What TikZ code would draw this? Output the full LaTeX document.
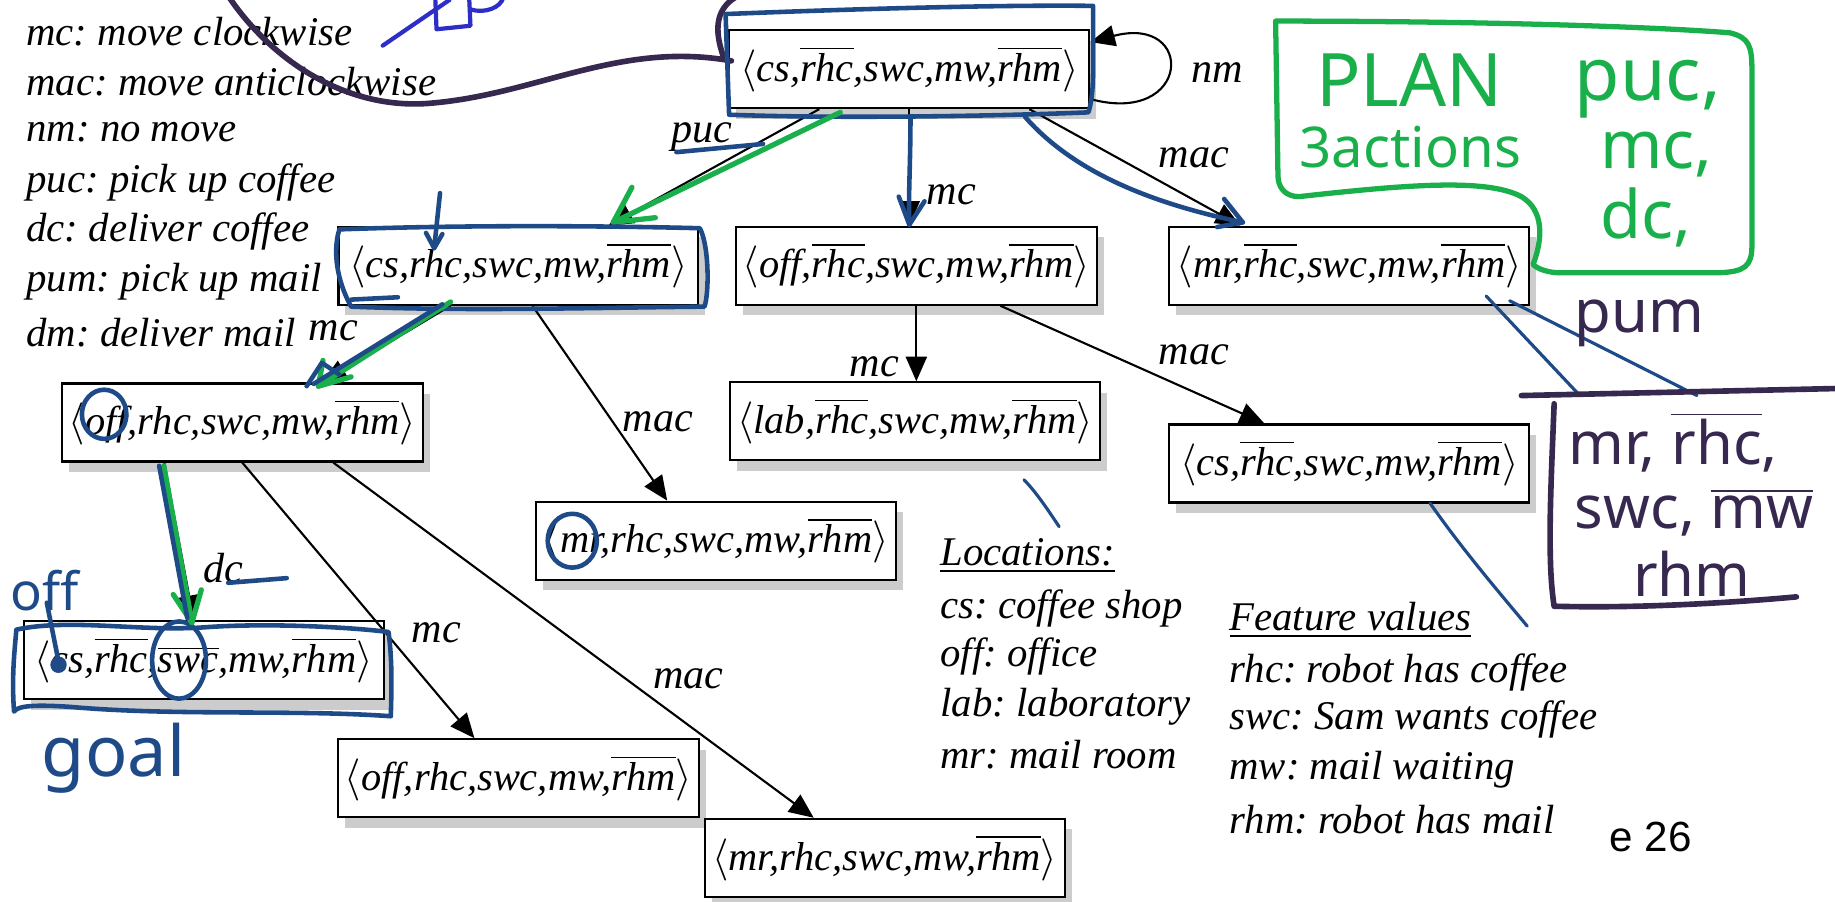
\documentclass[tikz,border=0pt]{standalone}
\usepackage{fontspec}
\setmainfont{Liberation Serif}
\newfontfamily\handfont{Noto Sans}
\newfontfamily\slidefont{Liberation Sans}
\usetikzlibrary{arrows.meta,shadows}
\frenchspacing

\definecolor{inkblue}{RGB}{30,75,135}
\definecolor{cupblue}{RGB}{45,45,200}
\definecolor{inkpurple}{RGB}{55,40,80}
\definecolor{inkgreen}{RGB}{25,175,75}

\newcommand{\negf}[1]{$\overline{\mbox{#1}}$}
\newcommand{\st}[1]{$\langle$#1$\rangle$}

\tikzset{
  stbox/.style={draw, semithick, fill=white, inner sep=2pt,
    minimum width=3.6cm, minimum height=0.78cm,
    font=\fontsize{11.5}{14}\selectfont\itshape,
    drop shadow={shadow xshift=2pt, shadow yshift=-3pt, opacity=0.4}},
  act/.style={font=\fontsize{12}{14}\selectfont\itshape},
  legend/.style={anchor=west, inner sep=0pt, font=\fontsize{11.6}{14}\selectfont\itshape},
  trans/.style={semithick, -{Triangle[length=7pt,width=6pt]}},
  inkb/.style={draw=inkblue, line width=1.3pt, line cap=round, line join=round},
  inkp/.style={draw=inkpurple, line width=1.6pt, line cap=round, line join=round},
  inkg/.style={draw=inkgreen, line width=1.5pt, line cap=round, line join=round},
  hand/.style={inner sep=0pt, font=\handfont\fontsize{21}{25}\selectfont},
}

\begin{document}
\begin{tikzpicture}[x=0.011703cm, y=-0.011703cm]
  \useasboundingbox (0,0) rectangle (1568,770);

  % legend of actions
  \node[legend] (lmc)  at (22,27)  {mc: move clockwise};
  \node[legend] (lmac) at (22,70)  {mac: move anticlockwise};
  \node[legend] (lnm)  at (22,113) {nm: no move};
  \node[legend] (lpuc) at (22,156) {puc: pick up coffee};
  \node[legend] (ldc)  at (22,198) {dc: deliver coffee};
  \node[legend] (lpum) at (22,241) {pum: pick up mail};
  \node[legend] (ldm)  at (22,284) {dm: deliver mail};

  % states
  \node[stbox] (s0)  at (777,59)  {\st{cs,\negf{rhc},swc,mw,\negf{rhm}}};
  \node[stbox] (s1)  at (443,227) {\st{cs,rhc,swc,mw,\negf{rhm}}};
  \node[stbox] (s2)  at (783,227) {\st{off,\negf{rhc},swc,mw,\negf{rhm}}};
  \node[stbox] (s3)  at (1153,227){\st{mr,\negf{rhc},swc,mw,\negf{rhm}}};
  \node[stbox] (s4)  at (207,361) {\st{off,rhc,swc,mw,\negf{rhm}}};
  \node[stbox] (s6)  at (782,360) {\st{lab,\negf{rhc},swc,mw,\negf{rhm}}};
  \node[stbox] (s7)  at (1153,396){\st{cs,\negf{rhc},swc,mw,\negf{rhm}}};
  \node[stbox] (s5)  at (612,462) {\st{mr,rhc,swc,mw,\negf{rhm}}};
  \node[stbox] (s8)  at (174,564) {\st{cs,\negf{rhc},\negf{swc},mw,\negf{rhm}}};
  \node[stbox] (s9)  at (443,665) {\st{off,rhc,swc,mw,\negf{rhm}}};
  \node[stbox] (s10) at (756,733) {\st{mr,rhc,swc,mw,\negf{rhm}}};

  % transitions
  \draw[trans] ([xshift=-0.9cm]s0.south) -- ([xshift=0.9cm]s1.north);
  \draw[trans] (s0.south) -- (s0.south |- s2.north);
  \draw[trans] ([xshift=1.2cm]s0.south) -- ([xshift=-1.09cm]s3.north);
  \draw[trans] ([yshift=-0.3cm]s0.east) .. controls (1018,108) and (1022,12) .. ([yshift=0.27cm]s0.east);
  \draw[trans] ([xshift=-0.68cm]s1.south) -- ([xshift=0.8cm]s4.north);
  \draw[trans] ([xshift=0.14cm]s1.south) -- ([xshift=-0.49cm]s5.north);
  \draw[trans] (s2.south) -- (s2.south |- s6.north);
  \draw[trans] ([xshift=0.84cm]s2.south) -- ([xshift=-0.85cm]s7.north);
  \draw[trans] ([xshift=-0.78cm]s4.south) -- ([xshift=-0.1cm]s8.north);
  \draw[trans] (s4.south) -- ([xshift=-0.44cm]s9.north);
  \draw[trans] ([xshift=0.91cm]s4.south) -- ([xshift=-0.71cm]s10.north);

  % action labels
  \node[act] (anm)   at (1040,62)  {nm};
  \node[act] (apuc)  at (600,117)  {puc};
  \node[act] (amac0) at (1020,135) {mac};
  \node[act] (amc0)  at (813,166)  {mc};
  \node[act] (amc1)  at (285,283)  {mc};
  \node[act] (amac1) at (562,360)  {mac};
  \node[act] (amc2)  at (747,313)  {mc};
  \node[act] (amac2) at (1020,303) {mac};
  \node[act] (adc)   at (191,485)  {dc};
  \node[act] (amc4)  at (373,541)  {mc};
  \node[act] (amac4) at (588,580)  {mac};

  % locations and feature values
  \node[legend] (loc)  at (803,475) {\underline{Locations:}};
  \node[legend] (lcs)  at (803,520) {cs: coffee shop};
  \node[legend] (loff) at (803,561) {off: office};
  \node[legend] (llab) at (803,604) {lab: laboratory};
  \node[legend] (lmr)  at (803,645) {mr: mail room};
  \node[legend] (fv)   at (1050,530) {\underline{Feature values}};
  \node[legend] (frhc) at (1050,575) {rhc: robot has coffee};
  \node[legend] (fswc) at (1050,615) {swc: Sam wants coffee};
  \node[legend] (fmw)  at (1050,658) {mw: mail waiting};
  \node[legend] (frhm) at (1050,700) {rhm: robot has mail};
  \node[anchor=west, inner sep=0pt, font=\slidefont\fontsize{12}{14}\selectfont] (pg) at (1375,715) {e 26};

  % handwritten notes: top scribbles
  \draw[inkp] (196,-2) .. controls (235,55) and (300,95) .. (370,88)
    .. controls (460,80) and (530,35) .. (625,52);
  \draw[inkp] (618,48) .. controls (610,25) and (612,8) .. (628,-2);
  \draw[draw=cupblue, line width=1.2pt, line cap=round] (327,39) -- (384,0);
  \draw[draw=cupblue, line width=1.2pt, line cap=round, line join=round]
    (372,0) -- (373,25) -- (402,22) -- (401,0);
  \draw[draw=cupblue, line width=1.2pt, line cap=round] (402,8) .. controls (415,12) and (428,6) .. (430,-2);
  \draw[inkb] (620,12) .. controls (720,8) and (850,4) .. (934,5) -- (934,60)
    .. controls (934,80) and (932,90) .. (930,96)
    .. controls (830,100) and (700,101) .. (623,98) -- (620,12);

  % traced arrows from the root
  \draw[inkb] (578,130) -- (652,123);
  \draw[inkg] (718,96) -- (524,190);
  \draw[inkg] (540,160) -- (524,190) -- (560,186);
  \draw[inkb] (778,100) .. controls (778,140) and (776,170) .. (777,192);
  \draw[inkb] (768,168) -- (777,192) -- (790,172);
  \draw[inkb] (876,100) .. controls (920,150) and (990,175) .. (1062,190);
  \draw[inkb] (1046,170) -- (1062,190) -- (1040,194);

  % outline of the second state
  \draw[inkb] (290,196) .. controls (400,192) and (520,193) .. (598,195)
    .. controls (606,210) and (606,250) .. (602,262)
    .. controls (500,263) and (400,266) .. (300,262)
    .. controls (288,240) and (284,215) .. (290,196);
  \draw[inkb] (376,165) -- (371,212);
  \draw[inkb] (364,199) -- (371,212) -- (378,200);
  \draw[inkb] (300,256) -- (340,254);
  \draw[inkg] (385,258) -- (272,330);
  \draw[inkg] (276,308) -- (272,330) -- (300,322);
  \draw[inkb] (378,260) -- (268,328);
  \draw[inkb] (262,330) -- (275,310) -- (290,320);

  % circles
  \draw[inkb] (89,354) ellipse (19 and 21);
  \draw[inkb] (489,462) ellipse (21 and 23);
  \draw[inkb] (153,564) ellipse (23 and 33);

  % goal state
  \draw[inkg] (140,398) -- (164,532);
  \draw[inkg] (148,508) -- (164,532) -- (172,504);
  \draw[inkb] (136,398) -- (160,528);
  \draw[inkb] (195,498) -- (245,494);
  \draw[inkb] (14,538) .. controls (60,528) and (120,540) .. (175,536)
    .. controls (230,532) and (300,536) .. (332,540)
    .. controls (336,570) and (334,600) .. (334,612)
    .. controls (250,606) and (150,612) .. (60,604)
    .. controls (30,602) and (15,603) .. (12,608)
    .. controls (10,580) and (12,560) .. (14,538);
  \fill[inkblue] (50,568) circle (7);
  \draw[inkb] (40,515) -- (50,565);
  \node[hand, text=inkblue, font=\handfont\fontsize{15}{18}\selectfont] (hoff) at (38,505) {off};
  \node[hand, text=inkblue, font=\handfont\fontsize{20}{24}\selectfont] (hgoal) at (97,648) {goal};

  % pointers to the legend
  \draw[inkb, line width=0.9pt] (875,410) .. controls (885,420) and (895,435) .. (905,450);
  \draw[inkb, line width=0.9pt] (1222,430) .. controls (1250,470) and (1280,505) .. (1305,535);
  \draw[inkb, line width=0.9pt] (1270,253) -- (1350,338);
  \draw[inkb, line width=0.9pt] (1290,257) -- (1450,338);

  % plan bubble
  \draw[inkg] (1090,18) .. controls (1250,18) and (1400,22) .. (1478,28)
    .. controls (1495,32) and (1497,40) .. (1497,60) -- (1497,210)
    .. controls (1497,228) and (1490,232) .. (1470,233)
    -- (1330,233) .. controls (1318,232) and (1312,228) .. (1310,226)
    .. controls (1318,205) and (1320,180) .. (1300,168)
    .. controls (1270,152) and (1200,158) .. (1110,168)
    .. controls (1098,168) and (1092,160) .. (1092,150) -- (1090,18);
  \node[hand, text=inkgreen, anchor=west] (hplan) at (1124,68) {PLAN};
  \node[hand, text=inkgreen, anchor=west] (hpuc) at (1345,76) {puc,};
  \node[hand, text=inkgreen, anchor=west, font=\handfont\fontsize{16}{20}\selectfont] (hact) at (1110,126) {3actions};
  \node[hand, text=inkgreen, anchor=west, font=\handfont\fontsize{19}{22}\selectfont] (hmc) at (1367,132) {mc,};
  \node[hand, text=inkgreen, anchor=west, font=\handfont\fontsize{19}{22}\selectfont] (hdc) at (1367,186) {dc,};

  % pick up mail note
  \node[hand, text=inkpurple, anchor=west, font=\handfont\fontsize{17}{20}\selectfont] (hpum) at (1345,276) {pum};
  \draw[inkp] (1300,338) -- (1568,332);
  \draw[inkp] (1328,345) .. controls (1325,420) and (1322,480) .. (1328,518)
    .. controls (1400,520) and (1480,515) .. (1535,510);
  \node[hand, text=inkpurple, anchor=west, font=\handfont\fontsize{17}{20}\selectfont] (hmr) at (1340,378) {mr, \negf{rhc},};
  \node[hand, text=inkpurple, anchor=west, font=\handfont\fontsize{17}{20}\selectfont] (hswc) at (1345,438) {swc, \negf{mw}};
  \node[hand, text=inkpurple, anchor=west, font=\handfont\fontsize{17}{20}\selectfont] (hrhm) at (1395,490) {rhm};
\end{tikzpicture}
\end{document}
